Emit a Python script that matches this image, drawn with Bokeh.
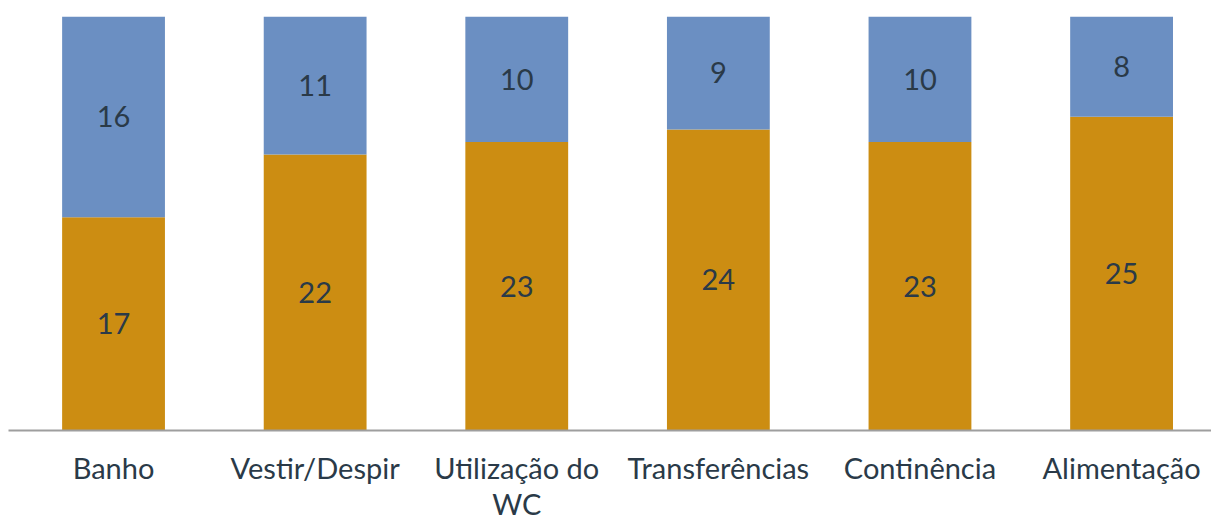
from bokeh.plotting import figure
from bokeh.models import ColumnDataSource, Range1d, FixedTicker
from bokeh.core.properties import value
from bokeh.embed import file_html
from bokeh.resources import INLINE

categories = ["Banho", "Vestir/Despir", "Utilização do\nWC", "Transferências", "Continência", "Alimentação"]
bottom_vals = [17, 22, 23, 24, 23, 25]
top_vals = [16, 11, 10, 9, 10, 8]

ORANGE = "#CC8D12"
BLUE = "#6B8FC2"
TEXT = "#2A3A48"

xs = list(range(len(categories)))
tops_total = [b + t for b, t in zip(bottom_vals, top_vals)]
src = ColumnDataSource(dict(
    x=xs,
    b=bottom_vals,
    t=top_vals,
    total=tops_total,
    zero=[0] * len(xs),
    bmid=[v / 2 for v in bottom_vals],
    tmid=[b + t / 2 for b, t in zip(bottom_vals, top_vals)],
    blab=[str(v) for v in bottom_vals],
    tlab=[str(v) for v in top_vals],
))

p = figure(width=1211, height=524, output_backend="svg", toolbar_location=None,
           x_range=Range1d(-0.521, 5.446), y_range=Range1d(0, 33),
           min_border_left=8, min_border_right=0, min_border_top=16, min_border_bottom=94)
p.outline_line_color = None
p.background_fill_color = "white"
p.border_fill_color = "white"
p.xgrid.visible = False
p.ygrid.visible = False
p.yaxis.visible = False

w = 0.51
p.vbar(x="x", bottom="zero", top="b", width=w, source=src, fill_color=ORANGE, line_color=None)
p.vbar(x="x", bottom="b", top="total", width=w, source=src, fill_color=BLUE, line_color=None)

p.text(x="x", y="bmid", text="blab", source=src, text_align="center", text_baseline="middle",
       text_font=value("Lato"), text_font_size="29px", text_color=TEXT)
p.text(x="x", y="tmid", text="tlab", source=src, text_align="center", text_baseline="middle",
       text_font=value("Lato"), text_font_size="29px", text_color=TEXT)

ax = p.xaxis[0]
ax.ticker = FixedTicker(ticks=xs)
ax.major_label_overrides = {i: c for i, c in enumerate(categories)}
ax.major_tick_line_color = None
ax.major_tick_out = 0
ax.major_tick_in = 0
ax.minor_tick_line_color = None
ax.minor_tick_out = 0
ax.axis_line_color = "#9E9E9E"
ax.axis_line_width = 2
ax.major_label_standoff = 19
ax.major_label_text_font = "Lato"
ax.major_label_text_font_size = "29px"
ax.major_label_text_line_height = 1.05
ax.major_label_text_color = TEXT

open("out.html", "w").write(file_html(p, INLINE))
